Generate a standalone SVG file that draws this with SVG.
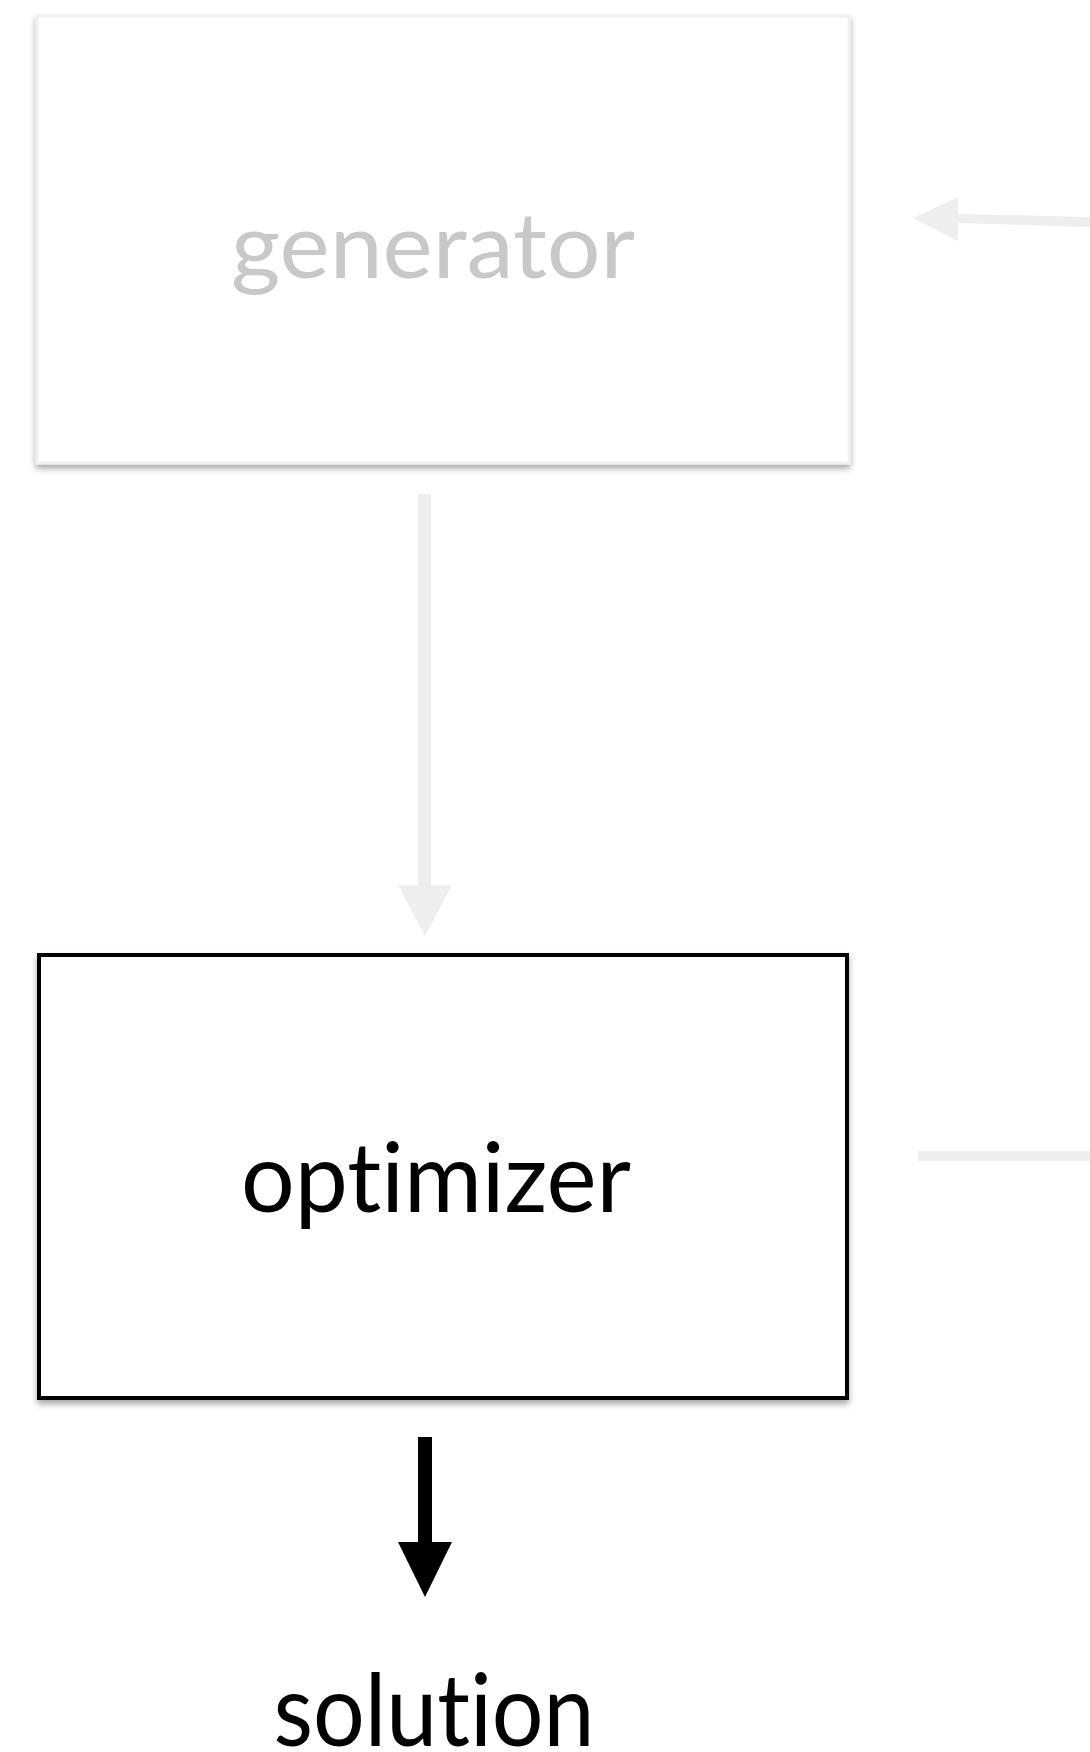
<svg xmlns="http://www.w3.org/2000/svg" width="1090" height="1752" viewBox="0 0 1090 1752">
<style>
.lbl{font-family:Lato,"Open Sans","Liberation Sans",sans-serif;text-anchor:middle;font-variant-ligatures:none;font-feature-settings:"liga" 0}
.gray{fill:#eeeeee;stroke:none}
</style>
<defs>
<filter id="sh" x="-5%" y="-5%" width="110%" height="115%">
<feDropShadow dx="0" dy="4" stdDeviation="3" flood-color="#000" flood-opacity="0.35"/>
</filter>
</defs>
<rect width="1090" height="1752" fill="#fff"/>
<g id="generator">
<rect x="37" y="16" width="812" height="447" fill="#fff" stroke="#f0f0f0" stroke-width="3" filter="url(#sh)"/>
<text class="lbl" x="433" y="278" font-size="92" fill="#c8c8c8" textLength="404" lengthAdjust="spacingAndGlyphs">generator</text>
</g>
<g id="optimizer">
<rect x="39" y="955" width="808" height="443" fill="#fff" stroke="#000" stroke-width="4" filter="url(#sh)"/>
<text class="lbl" x="436" y="1212" font-size="96" fill="#000" textLength="390" lengthAdjust="spacingAndGlyphs">optimizer</text>
</g>
<g id="solution">
<text class="lbl" x="434" y="1746" font-size="100" fill="#000" textLength="321" lengthAdjust="spacingAndGlyphs">solution</text>
</g>
<g id="connectors">
<polygon class="gray" points="1090,217 958,214 958,197 913,218 958,241 958,223 1090,227"/>
<rect class="gray" x="418" y="494" width="13" height="392"/>
<polygon class="gray" points="398,885 452,885 425,936"/>
<rect class="gray" x="918" y="1151" width="172" height="10"/>
<rect x="418" y="1437" width="14" height="107" fill="#000"/>
<polygon points="398,1542 452,1542 425,1597" fill="#000"/>
</g>
</svg>
